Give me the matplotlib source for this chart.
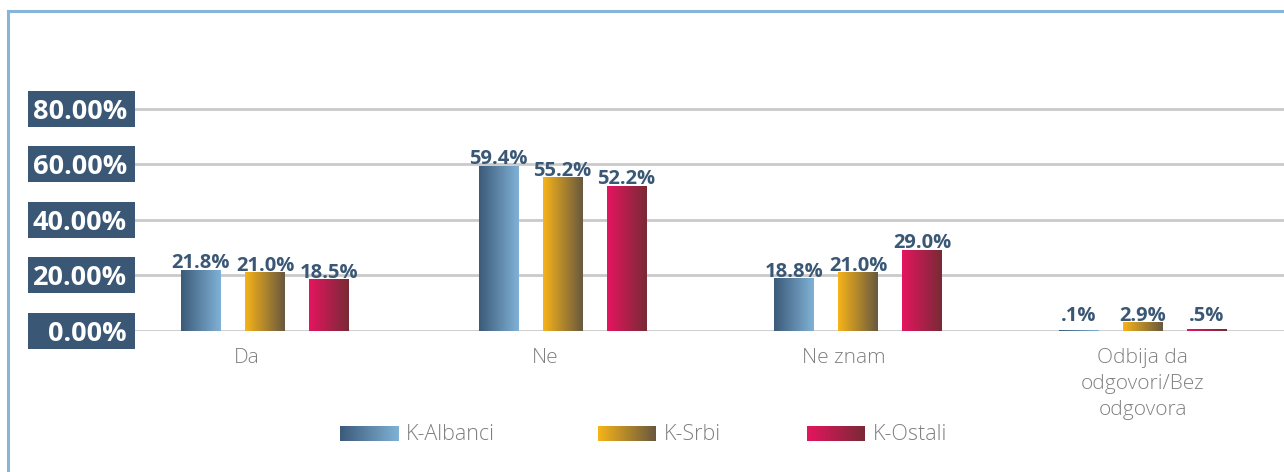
import numpy as np
import matplotlib
matplotlib.use("Agg")
import matplotlib.pyplot as plt
import matplotlib.transforms as mtransforms
from matplotlib.colors import LinearSegmentedColormap
from matplotlib.patches import Rectangle
from matplotlib.lines import Line2D

plt.rcParams['font.family'] = ['Open Sans', 'DejaVu Sans']

categories = ["Da", "Ne", "Ne znam", "Odbija da\nodgovori/Bez\nodgovora"]
series = ["K-Albanci", "K-Srbi", "K-Ostali"]
albanci = [21.8, 59.4, 18.8, 0.1]
srbi = [21.0, 55.2, 21.0, 2.9]
ostali = [18.5, 52.2, 29.0, 0.5]
yticks = [0, 20, 40, 60, 80]

gradients = [("#3c5a79", "#80b2d6"), ("#f7b41a", "#68583f"), ("#e5155f", "#782a35")]
label_color = "#3a5876"
W, H = 1284, 472
px = 298.5  # pixels per category
x0 = 247    # pixel of first category label

fig = plt.figure(figsize=(W / 100, H / 100), dpi=100)
ax = fig.add_axes([135 / W, 141 / H, (W - 135) / W, 250 / H])

grad = np.linspace(0, 1, 256).reshape(1, -1)
cmaps = [LinearSegmentedColormap.from_list("g%d" % i, c) for i, c in enumerate(gradients)]

# bar groups sit slightly right of their labels in the original
group_shift = np.array([18, 17, 14, 0]) / px
bar_w = 40 / px
step = 64 / px
for si, vals in enumerate([albanci, srbi, ostali]):
    for ci, v in enumerate(vals):
        xc = ci + group_shift[ci] + (si - 1) * step
        ax.imshow(grad, extent=[xc - bar_w / 2, xc + bar_w / 2, 0, v], cmap=cmaps[si],
                  aspect='auto', interpolation='bicubic', zorder=3)
        s = "%.1f%%" % v
        if s.startswith("0"):
            s = s[1:]
        # keep labels of tiny bars off the baseline
        ax.annotate(s, (xc, max(v, 3.0)), xytext=(0, 1.5), textcoords='offset points',
                    ha='center', va='baseline', fontsize=14.5, fontweight='bold',
                    color=label_color, zorder=4)

ax.set_xlim((135 - x0) / px, (W - x0) / px)
ax.set_ylim(0, 90)

for t in yticks:
    ax.axhline(t, color="#cacaca", lw=2, zorder=1)

# y labels in dark boxes
trans = mtransforms.blended_transform_factory(fig.transFigure, ax.transData)
box_h = 36 / 2.775
for t in yticks:
    fig.add_artist(Rectangle((28 / W, t - box_h / 2), 107 / W, box_h, transform=trans,
                             facecolor="#3a5876", edgecolor='none'))
    fig.text(127 / W, t, "%.2f%%" % t, transform=trans, ha='right', va='center_baseline',
             fontsize=19.5, fontweight='bold', color='white')

ax.set_yticks([])
ax.set_xticks(np.arange(len(categories)))
ax.set_xticklabels(categories, fontsize=15, color="#808080", fontweight='light',
                   linespacing=1.4, va='top')
ax.tick_params(axis='x', length=0, pad=12)
for sp in ax.spines.values():
    sp.set_visible(False)

# legend
leg_x = [340, 598, 807]
for i, name in enumerate(series):
    lax = fig.add_axes([leg_x[i] / W, (H - 441) / H, 58 / W, 15 / H])
    lax.imshow(grad, cmap=cmaps[i], aspect='auto', interpolation='bicubic')
    lax.axis('off')
    fig.text((leg_x[i] + 66) / W, 1 - 434 / H, name, ha='left', va='center',
             fontsize=15.5, color="#808080", fontweight='light')

# outer frame
frame_c = "#86b5d8"
fig.add_artist(Line2D([8 / W, 8 / W], [0, 1 - 11 / H], color=frame_c, lw=2.2))
fig.add_artist(Line2D([8 / W, 1], [1 - 11 / H, 1 - 11 / H], color=frame_c, lw=2.2))

fig.savefig("out.png", dpi=100)
